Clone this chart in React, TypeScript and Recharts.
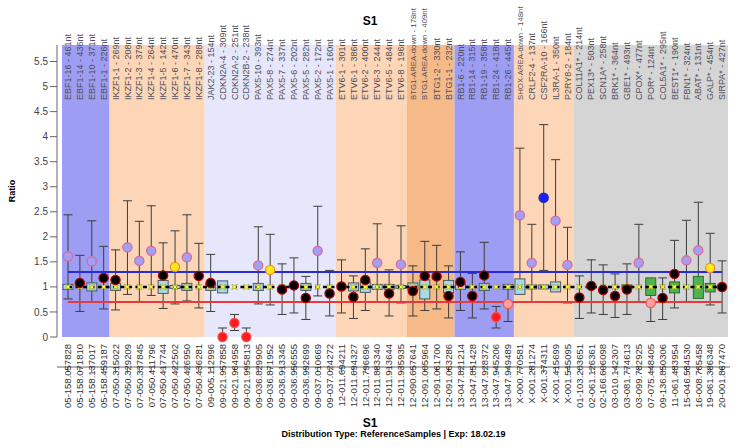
import { ComposedChart, XAxis, YAxis, Bar, Line, ReferenceArea } from "recharts";

const probes = [
  "05-158.057828", "05-158.071810", "05-158.137017", "05-158.459187",
  "07-050.315022", "07-050.329209", "07-050.337845", "07-050.411796",
  "07-050.417744", "07-050.422502", "07-050.426950", "07-050.436281",
  "09-005.112996", "09-021.957858", "09-021.964958", "09-021.995813",
  "09-036.829905", "09-036.871952", "09-036.913345", "09-036.956555",
  "09-036.992699", "09-037.010669", "09-037.024272",
  "12-011.694211", "12-011.694327", "12-011.796696", "12-011.883340",
  "12-011.913644", "12-011.935935",
  "12-090.657641", "12-091.005964", "12-091.061700", "12-091.063286",
  "13-047.821214", "13-047.851428", "13-047.928372", "13-047.945206", "13-047.949489",
  "X-000.770581", "X-001.281274", "X-001.374311", "X-001.415699", "X-001.545095",
  "01-103.203651", "02-061.126361", "02-166.606098", "03-010.142307",
  "03-081.774613", "03-099.782925", "07-075.448405", "09-136.850306",
  "11-061.483954", "15-046.584530", "16-008.765458", "19-061.386348", "20-001.867470",
];

const genes = [
  "EBF1-16 - 461nt", "EBF1-14 - 436nt", "EBF1-10 - 371nt", "EBF1-1 - 226nt",
  "IKZF1-1 - 269nt", "IKZF1-2 - 208nt", "IKZF1-3 - 379nt", "IKZF1-4 - 264nt",
  "IKZF1-5 - 142nt", "IKZF1-6 - 470nt", "IKZF1-7 - 343nt", "IKZF1-8 - 288nt",
  "JAK2-23 - 154nt", "CDKN2A-4 - 309nt", "CDKN2A-2 - 251nt", "CDKN2B-2 - 238nt",
  "PAX5-10 - 393nt", "PAX5-8 - 274nt", "PAX5-7 - 337nt", "PAX5-6 - 202nt",
  "PAX5-5 - 282nt", "PAX5-2 - 172nt", "PAX5-1 - 160nt",
  "ETV6-1 - 301nt", "ETV6-1 - 386nt", "ETV6-2 - 400nt", "ETV6-3 - 244nt",
  "ETV6-5 - 484nt", "ETV6-8 - 196nt",
  "BTG1-AREA-down - 178nt", "BTG1-AREA-down - 409nt", "BTG1-2 - 330nt", "BTG1-1 - 232nt",
  "RB1-6 - 220nt", "RB1-14 - 315nt", "RB1-19 - 358nt", "RB1-24 - 418nt", "RB1-26 - 445nt",
  "SHOX-AREA-down - 148nt", "CRLF2-4 - 137nt", "CSF2RA-10 - 166nt", "IL3RA-1 - 350nt", "P2RY8-2 - 184nt",
  "COL11A1* - 214nt", "PEX13* - 503nt", "SCN1A* - 258nt", "BRK1* - 364nt",
  "GBE1* - 493nt", "CPOX* - 477nt", "POR* - 124nt", "COL5A1* - 295nt",
  "BEST1* - 190nt", "FBN1* - 324nt", "ABAT* - 131nt", "GALP* - 454nt", "SIRPA* - 427nt",
];

// sample ratio per probe
const sampleRatio = [
  1.61, 1.08, 1.51, 1.18, 1.14, 1.79, 1.52, 1.72, 1.23, 1.4, 1.59, 1.22,
  1.08, 0, 0.28, 0, 1.43, 1.34, 0.95, 1.03, 0.78, 1.72, 0.87,
  1.01, 0.8, 1.14, 1.48, 0.87, 1.45,
  0.92, 1.22, 1.21, 0.82,
  1.1, 0.82, 1.23, 0.4, 0.66,
  2.43, 1.48, 2.78, 2.32, 1.44,
  0.79, 1.02, 0.94, 0.82, 0.95, 1.48, 0.68, 0.78, 1.26, 1.53, 1.73, 1.38, 1.0,
];

// whisker range per probe
const rangeLow = [
  0.76, 0.51, 0.7, 0.56, 0.54, 0.85, 0.71, 0.83, 0.57, 0.66, 0.72, 0.58,
  0.51, 0, 0.13, 0, 0.66, 0.64, 0.45, 0.48, 0.35, 0.82, 0.42,
  0.48, 0.37, 0.53, 0.7, 0.42, 0.68,
  0.42, 0.53, 0.56, 0.38,
  0.53, 0.38, 0.56, 0.18, 0.31,
  0.9, 0.7, 1.33, 1.0, 0.68,
  0.37, 0.48, 0.45, 0.39, 0.45, 0.7, 0.31, 0.35, 0.58, 0.71, 0.8, 0.64, 0.48,
];
const rangeHigh = [
  2.44, 1.63, 2.32, 1.81, 1.74, 2.72, 2.31, 2.62, 1.88, 2.12, 2.44, 1.87,
  1.65, 0.18, 0.45, 0.18, 2.2, 2.05, 1.46, 1.58, 1.21, 2.61, 1.33,
  1.54, 1.22, 1.76, 2.26, 1.34, 2.22,
  1.42, 1.91, 1.83, 1.42,
  1.7, 1.27, 1.89, 0.61, 0.97,
  3.77, 2.25, 4.24, 3.54, 2.19,
  1.22, 1.54, 1.44, 1.26, 1.46, 2.25, 1.0, 1.18, 1.93, 2.33, 2.69, 2.07, 1.52,
];

// reference sample boxes (null = no box drawn)
const boxLow = [
  0.95, null, 0.92, null, 0.93, null, null, null, 0.87, 0.97, 0.93, null,
  0.93, 0.88, null, null, 0.93, null, null, null, 0.93, null, null,
  null, 0.92, 0.89, 0.95, 0.95, 0.97,
  0.94, 0.76, null, 0.88,
  0.95, null, 0.93, null, 0.95,
  0.85, 0.96, 0.96, 0.9, null,
  null, null, null, null, 0.96, null, 0.83, null, 0.88, null, 0.77, 0.9, null,
];
const boxHigh = [
  1.05, null, 1.08, null, 1.07, null, null, null, 1.13, 1.03, 1.07, null,
  1.07, 1.12, null, null, 1.07, null, null, null, 1.07, null, null,
  null, 1.08, 1.1, 1.05, 1.05, 1.03,
  1.08, 1.14, null, 1.13,
  1.05, null, 1.07, null, 1.05,
  1.16, 1.04, 1.04, 1.1, null,
  null, null, null, null, 1.04, null, 1.18, null, 1.1, null, 1.21, 1.07, null,
];

const status = [
  "high", "normal", "high", "normal", "normal", "high", "high", "high", "normal", "gain", "high", "normal",
  "normal", "loss", "loss", "loss", "high", "gain", "normal", "normal", "normal", "high", "normal",
  "normal", "normal", "normal", "high", "normal", "high",
  "normal", "normal", "normal", "normal",
  "normal", "normal", "normal", "loss", "low",
  "high", "high", "amp", "high", "high",
  "normal", "normal", "normal", "normal", "normal", "high", "low", "normal", "normal", "high", "high", "gain", "normal",
];

const referenceProbes = probes.slice(43);

const bands = [
  { from: "05-158.057828", to: "05-158.459187", color: "#9d9df3" },
  { from: "07-050.315022", to: "07-050.436281", color: "#fcd6b6" },
  { from: "09-005.112996", to: "09-037.024272", color: "#e7e7fb" },
  { from: "12-011.694211", to: "12-011.935935", color: "#fcd6b6" },
  { from: "12-090.657641", to: "12-091.063286", color: "#f6ba89" },
  { from: "13-047.821214", to: "13-047.949489", color: "#9d9df3" },
  { from: "X-000.770581", to: "X-001.545095", color: "#fcd6b6" },
  { from: "01-103.203651", to: "20-001.867470", color: "#d5d5d5" },
];

const yTicks = [0, 0.5, 1, 1.5, 2, 2.5, 3, 3.5, 4, 4.5, 5, 5.5];
const upperLimit = 1.3;
const lowerLimit = 0.7;
const median = 1;

const data = probes.map((probe, i) => ({
  probe,
  gene: genes[i],
  ratio: sampleRatio[i],
  range: [rangeLow[i], rangeHigh[i]],
  box: boxLow[i] == null ? null : [boxLow[i], boxHigh[i]],
  status: status[i],
  control: referenceProbes.includes(probe),
  median,
  upper: upperLimit,
  lower: lowerLimit,
}));

const FONT = "'Liberation Sans', Arial, sans-serif";
const PAD = { left: 5, right: 2 };

const dotColors: any = {
  high: { fill: "#a0a0f5", stroke: "#de6a9c" },
  normal: { fill: "#000000", stroke: "#b00000" },
  gain: { fill: "#ffe91c", stroke: "#f0901c" },
  loss: { fill: "#ff1c1c", stroke: "#ff5050" },
  low: { fill: "#ffa0a0", stroke: "#f05a5a" },
  amp: { fill: "#2020ff", stroke: "#2424a8" },
};

const Whisker = (props: any) => {
  const { x, y, width, height } = props;
  if (x == null || y == null) return <g />;
  const cx = x + width / 2;
  const top = Math.min(y, y + height);
  const bot = Math.max(y, y + height);
  return (
    <g stroke="#3c3c3c" strokeWidth={1}>
      <line x1={cx} x2={cx} y1={top} y2={bot} />
      <line x1={cx - 4.5} x2={cx + 4.5} y1={top} y2={top} />
      <line x1={cx - 4.5} x2={cx + 4.5} y1={bot} y2={bot} />
    </g>
  );
};

const RefBox = (props: any) => {
  const { x, y, width, height, payload } = props;
  if (!payload || !payload.box || x == null) return <g />;
  const cx = x + width / 2;
  const top = Math.min(y, y + height);
  const h = Math.abs(height);
  return (
    <rect
      x={cx - 5}
      y={top}
      width={10}
      height={h}
      fill={payload.control ? "#4fb350" : "#a9d8e6"}
      stroke={payload.control ? "#2f6b31" : "#4d5a60"}
      strokeWidth={1}
    />
  );
};

const StarDot = (props: any) => {
  const { cx, cy, index } = props;
  if (cx == null || cy == null) return <g key={index} />;
  const pts: string[] = [];
  for (let k = 0; k < 8; k++) {
    const a = (k * Math.PI) / 4;
    const r = k % 2 === 1 ? 4 : 1.4;
    pts.push(`${cx + r * Math.cos(a)},${cy + r * Math.sin(a)}`);
  }
  return <polygon key={index} points={pts.join(" ")} fill="#ffff22" stroke="#8c8c30" strokeWidth={0.5} />;
};

const SampleDot = (props: any) => {
  const { cx, cy, payload, index } = props;
  if (cx == null || cy == null) return <g key={index} />;
  const c = dotColors[payload.status] || dotColors.normal;
  return <circle key={index} cx={cx} cy={cy} r={4.6} fill={c.fill} stroke={c.stroke} strokeWidth={1.3} />;
};

// draws the probe id under the axis and the gene label at the top of the band
const ProbeTick = (props: any) => {
  const { x, payload } = props;
  const i = probes.indexOf(payload.value);
  const gene = genes[i] || "";
  // long labels shrink a little so they stay inside the picture
  const geneSize = gene.length > 20 ? 7.8 : 9;
  return (
    <g fontFamily={FONT}>
      <text
        x={x}
        y={344}
        transform={`rotate(-90 ${x} 344)`}
        textAnchor="end"
        dy="0.35em"
        fontSize={9.5}
        fill="#333"
      >
        {payload.value}
      </text>
      <text
        x={x}
        y={100}
        transform={`rotate(-90 ${x} 100)`}
        textAnchor="start"
        dy="0.35em"
        fontSize={geneSize}
        fill="#4e4e5a"
      >
        {gene}
      </text>
    </g>
  );
};

export default function App() {
  return (
    <div style={{ position: "relative", width: 740, height: 448, fontFamily: FONT, background: "#fff" }}>
      <style>{`body{margin:0}`}</style>
      <ComposedChart
        width={740}
        height={448}
        data={data}
        margin={{ top: 45, right: 10, bottom: 30, left: 0 }}
        barCategoryGap={0}
      >
        <XAxis
          xAxisId="main"
          dataKey="probe"
          interval={0}
          height={81}
          padding={PAD}
          tick={<ProbeTick />}
          tickSize={5}
          tickLine={{ stroke: "#666" }}
          axisLine={{ stroke: "#666" }}
        />
        <XAxis xAxisId="box" dataKey="probe" hide padding={PAD} />
        <YAxis
          width={57}
          domain={[0, 5.83]}
          ticks={yTicks}
          tickSize={7}
          tickMargin={2}
          tick={{ fontSize: 10, fill: "#444", fontFamily: FONT }}
          tickLine={{ stroke: "#666" }}
          axisLine={{ stroke: "#666" }}
        />
        {bands.map((b) => (
          <ReferenceArea
            key={b.from}
            xAxisId="main"
            x1={b.from}
            x2={b.to}
            fill={b.color}
            fillOpacity={1}
            stroke="none"
            ifOverflow="visible"
          />
        ))}
        <Line xAxisId="main" dataKey="upper" stroke="#2b2bd4" strokeWidth={2} dot={false} activeDot={false} isAnimationActive={false} />
        <Line xAxisId="main" dataKey="lower" stroke="#e83a3c" strokeWidth={2} dot={false} activeDot={false} isAnimationActive={false} />
        <Bar xAxisId="main" dataKey="range" shape={<Whisker />} isAnimationActive={false} />
        <Line xAxisId="main" dataKey="median" stroke="#000" strokeWidth={2.5} strokeDasharray="4 3.5" dot={false} activeDot={false} isAnimationActive={false} />
        <Bar xAxisId="box" dataKey="box" shape={<RefBox />} isAnimationActive={false} />
        <Line xAxisId="main" dataKey="median" stroke="none" dot={StarDot} activeDot={false} isAnimationActive={false} />
        <Line xAxisId="main" dataKey="ratio" stroke="none" dot={SampleDot} activeDot={false} isAnimationActive={false} />
      </ComposedChart>
      <div style={{ position: "absolute", left: 0, width: 740, top: 15, textAlign: "center", fontWeight: "bold", fontSize: 12, lineHeight: "12px" }}>
        S1
      </div>
      <div style={{ position: "absolute", left: 0, width: 740, top: 417, textAlign: "center", fontWeight: "bold", fontSize: 12, lineHeight: "12px" }}>
        S1
      </div>
      <div style={{ position: "absolute", left: 57, width: 673, top: 430, textAlign: "center", fontWeight: "bold", fontSize: 9, lineHeight: "9px", whiteSpace: "nowrap" }}>
        Distribution Type: ReferenceSamples | Exp: 18.02.19
      </div>
      <div
        style={{
          position: "absolute",
          left: 12,
          top: 191,
          transform: "translate(-50%, -50%) rotate(-90deg)",
          fontWeight: "bold",
          fontSize: 9,
          lineHeight: "9px",
        }}
      >
        Ratio
      </div>
    </div>
  );
}
